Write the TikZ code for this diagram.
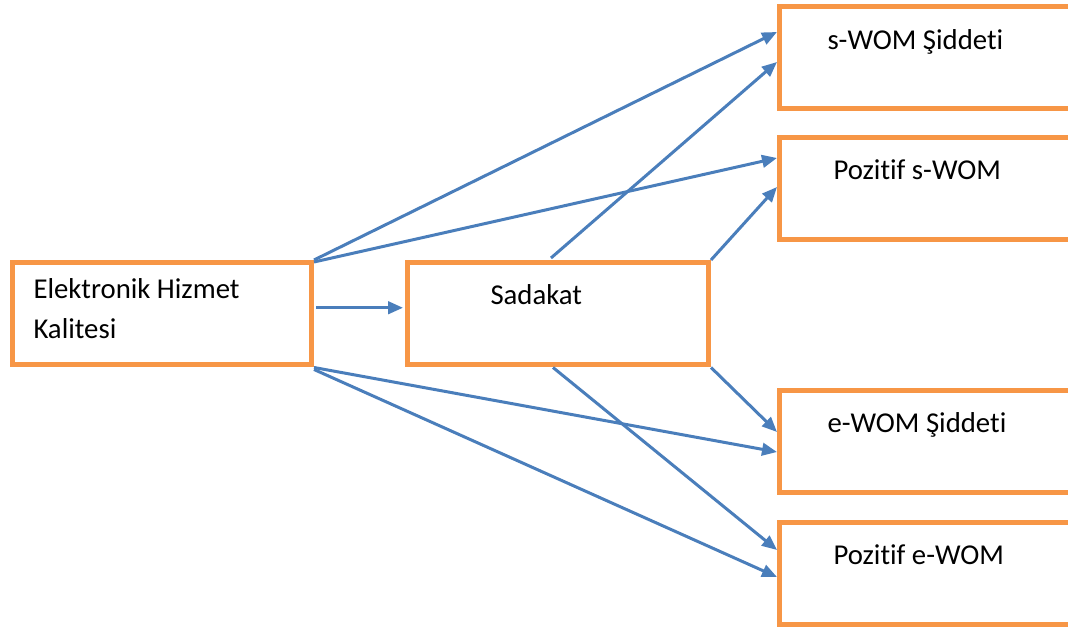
\documentclass[tikz,border=0pt]{standalone}
\usepackage{fontspec}
\setmainfont{Carlito}[Ligatures=CommonOff]
\usetikzlibrary{arrows.meta,calc}

\definecolor{boxorange}{HTML}{F79646}
\definecolor{linkblue}{HTML}{4A7EBB}

\begin{document}
\begin{tikzpicture}[x=0.4pt,y=-0.4pt,
    box/.style={draw=boxorange,line width=2pt,inner sep=0pt,anchor=north west,
      minimum width=#1,minimum height=41pt},
    txt/.style={anchor=base west,inner sep=0pt,align=left,
      font=\fontsize{11.5}{16}\selectfont},
    link/.style={draw=linkblue,line width=1.2pt,
      -{Triangle[length=6pt,width=5pt]}}]
	\useasboundingbox (0,0) rectangle (1068,631);
	\clip (0,0) rectangle (1068,631);

	% left and middle boxes
	\node[box=119.6pt] (ehk) at (10,260) {};
	\node[box=120.4pt] (sad) at (405,260) {};
	\node[txt] (ehktxt) at (33,339) {Elektronik Hizmet\\Kalitesi};
	\node[txt] (sadtxt) at (490,305) {Sadakat};

	% right hand boxes, cut off by the page
	\node[box=128pt] (ssid) at (777,4) {};
	\node[box=128pt] (spoz) at (777,135) {};
	\node[box=128pt] (esid) at (777,388) {};
	\node[box=128pt] (epoz) at (777,520) {};
	\node[txt] (ssidtxt) at (827,50) {s-WOM Şiddeti};
	\node[txt] (spoztxt) at (833,180) {Pozitif s-WOM};
	\node[txt] (esidtxt) at (827,433) {e-WOM Şiddeti};
	\node[txt] (epoztxt) at (833,565) {Pozitif e-WOM};

	\draw[link] ($(ehk.east)+(2,-6)$) -- ($(sad.west)+(-2,-6)$);

	\draw[link] (ehk.north east) -- ($(ssid.north west)+(0,28)$);
	\draw[link] ($(ehk.north east)+(0,2)$) -- ($(spoz.north west)+(0,23)$);
	\draw[link] (ehk.south east) -- ($(esid.north west)+(0,64)$);
	\draw[link] ($(ehk.south east)+(0,2)$) -- ($(epoz.north west)+(0,57)$);

	\draw[link] ($(sad.north)+(-7,-2)$) -- ($(ssid.north west)+(0,58)$);
	\draw[link] (sad.north east) -- ($(spoz.north west)+(0,52)$);
	\draw[link] (sad.south east) -- ($(esid.north west)+(0,44)$);
	\draw[link] ($(sad.south)+(-5,0)$) -- ($(epoz.north west)+(0,30)$);
\end{tikzpicture}
\end{document}
